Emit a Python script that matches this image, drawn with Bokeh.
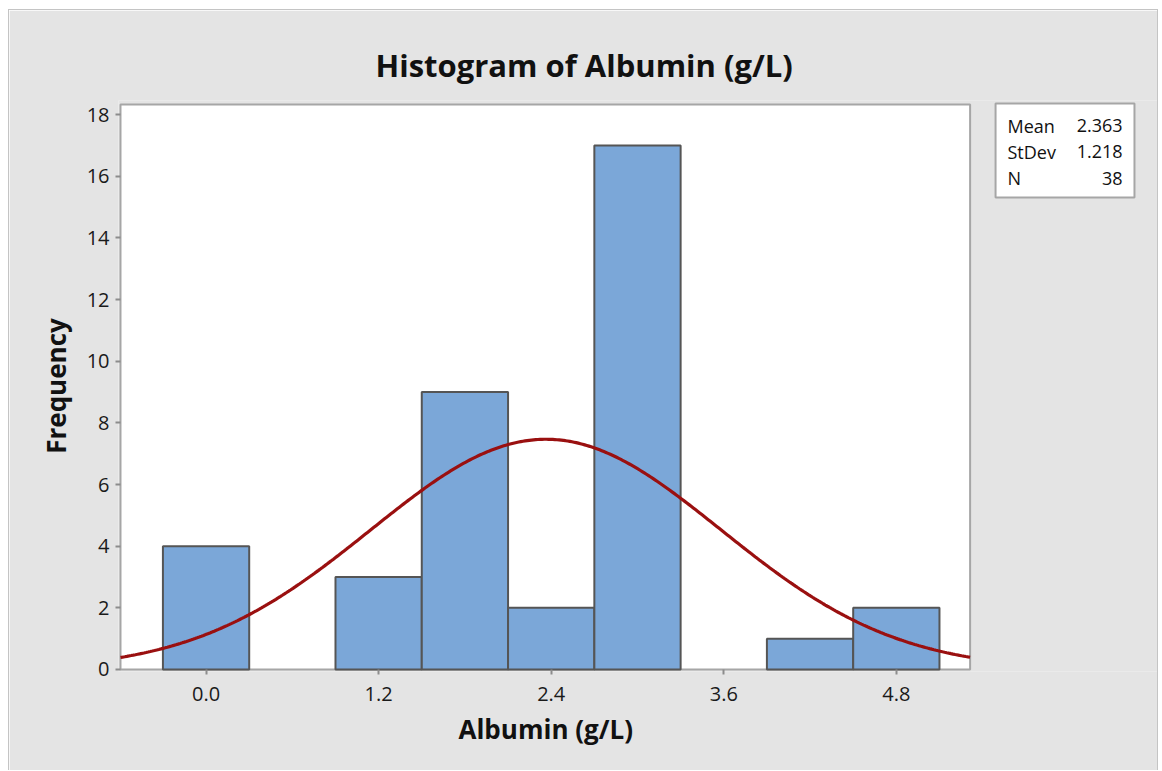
import numpy as np
from bokeh.plotting import figure
from bokeh.models import (Range1d, FixedTicker, NumeralTickFormatter, Title,
                          ColumnDataSource)
from bokeh.core.properties import value
from bokeh.embed import file_html
from bokeh.resources import INLINE

# Histogram bins (centres) and their frequencies
bin_centers = [0.0, 0.6, 1.2, 1.8, 2.4, 3.0, 3.6, 4.2, 4.8]
counts = [4, 0, 3, 9, 2, 17, 0, 1, 2]
bin_width = 0.6

# Summary statistics of the sample
mean = 2.363
stdev = 1.218
n_obs = 38
stat_names = ["Mean", "StDev", "N"]
stat_values = ["2.363", "1.218", "38"]

x_ticks = [0.0, 1.2, 2.4, 3.6, 4.8]
y_ticks = [0, 2, 4, 6, 8, 10, 12, 14, 16, 18]

FONT = "Open Sans"
BG = "#e4e4e4"

# plot-area limits (the white panel) and the wider frame that also holds the stats box
x_lo, x_hi = -0.595, 5.313
y_lo, y_hi = 0.0, 18.33

p = figure(width=1150, height=761, output_backend="svg", toolbar_location=None,
           x_range=Range1d(-0.6089, 6.630), y_range=Range1d(-0.0649, 18.456),
           min_border_left=109, min_border_right=0, min_border_top=90,
           min_border_bottom=100, margin=(9, 0, 0, 8))
p.styles = {"border-left": "1px solid #c4c4c4", "border-top": "1px solid #c4c4c4",
            "border-right": "1px solid #c4c4c4"}
p.background_fill_color = BG
p.border_fill_color = BG
p.outline_line_color = None
p.grid.visible = False

# white plotting panel
p.quad(left=[x_lo], right=[x_hi], bottom=[y_lo], top=[y_hi],
       fill_color="white", line_color="#a6a6a6", line_width=2)

# histogram bars (empty bins are not drawn)
src = ColumnDataSource(dict(
    x=[c for c, k in zip(bin_centers, counts) if k > 0],
    top=[k for k in counts if k > 0]))
p.vbar(x="x", top="top", width=bin_width, bottom=0, source=src,
       fill_color="#7ba7d8", line_color="#555555", line_width=2)

# fitted normal curve scaled to counts
xs = np.linspace(x_lo, x_hi, 400)
ys = n_obs * bin_width * np.exp(-0.5 * ((xs - mean) / stdev) ** 2) / (stdev * np.sqrt(2 * np.pi))
p.line(xs, ys, line_color="#9a1010", line_width=3.2)

# stats box
p.quad(left=[5.490], right=[6.456], bottom=[15.31], top=[18.36],
       fill_color="white", line_color="#a6a6a6", line_width=2)
row_y = [17.645, 16.80, 15.93]
p.text(x=[5.573] * 3, y=row_y, text=stat_names, text_font=value(FONT),
       text_font_size="18px", text_baseline="middle", text_align="left",
       text_color="#111111")
p.text(x=[6.373] * 3, y=row_y, text=stat_values, text_font=value(FONT),
       text_font_size="18px", text_baseline="middle", text_align="right",
       text_color="#111111")

# axes
for ax in (p.xaxis[0], p.yaxis[0]):
    ax.axis_line_color = None
    ax.major_tick_line_color = "#8c8c8c"
    ax.major_tick_line_width = 2
    ax.major_tick_in = 2
    ax.major_tick_out = 3
    ax.minor_tick_line_color = None
    ax.major_label_text_font = FONT
    ax.major_label_text_font_size = "20px"
    ax.major_label_text_color = "#1a1a1a"

p.xaxis.ticker = FixedTicker(ticks=x_ticks)
p.xaxis.formatter = NumeralTickFormatter(format="0.0")
p.xaxis.major_label_standoff = 12
p.yaxis.ticker = FixedTicker(ticks=y_ticks)
p.yaxis.major_label_standoff = 6

p.yaxis.axis_label = "Frequency"
p.yaxis.axis_label_text_font = FONT
p.yaxis.axis_label_text_font_size = "26px"
p.yaxis.axis_label_text_font_style = "bold"
p.yaxis.axis_label_text_color = "#111111"
p.yaxis.axis_label_standoff = 10

p.add_layout(Title(text="Albumin (g/L)", align="left", offset=340,
                   text_font=FONT, text_font_size="26px", text_font_style="bold",
                   text_color="#111111", standoff=10), "below")

p.title.text = "Histogram of Albumin (g/L)"
p.title.align = "left"
p.title.offset = 257
p.title.text_font = FONT
p.title.text_font_size = "31px"
p.title.text_font_style = "bold"
p.title.text_color = "#111111"
p.title.standoff = 30

open("out.html", "w").write(file_html(p, INLINE))
